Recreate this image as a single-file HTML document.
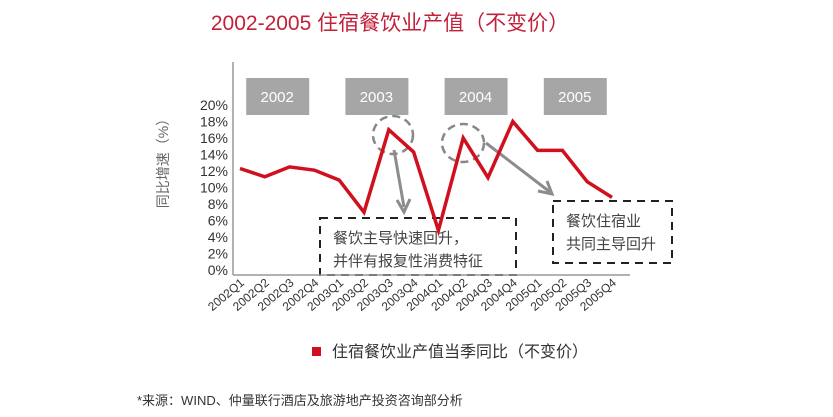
<!DOCTYPE html>
<html><head><meta charset="utf-8"><style>
body{margin:0;background:#fff;width:833px;height:417px;overflow:hidden;font-family:"Liberation Sans","Noto Sans CJK SC",sans-serif;}
svg{display:block}
</style></head><body>
<svg width="833" height="417" xmlns="http://www.w3.org/2000/svg" font-family="Liberation Sans, Noto Sans CJK SC, sans-serif">
<text x="390" y="30" text-anchor="middle" font-size="21" fill="#c3203a">2002-2005 住宿餐饮业产值（不变价）</text>
<g id="yl"></g>
<g id="xl"></g>
<text transform="translate(168,160) rotate(-90)" text-anchor="middle" font-size="14" fill="#666">同比增速（%）</text>
<g id="years"></g>
<ellipse cx="393" cy="135" rx="20" ry="19" fill="none" stroke="#888" stroke-width="2.5" stroke-dasharray="8,5"/>
<ellipse cx="463" cy="143" rx="21" ry="19" fill="none" stroke="#888" stroke-width="2.5" stroke-dasharray="8,5"/>
<g stroke="#8c8c8c" stroke-width="3" fill="none">
<line x1="394" y1="150" x2="404" y2="207"/><polyline points="397,200 404,212 410,199"/>
<line x1="486" y1="143" x2="550" y2="192"/><polyline points="538,191 552,194 547,181"/>
</g>
<rect x="320" y="218" width="196" height="57" fill="none" stroke="#222" stroke-width="2" stroke-dasharray="8,6"/>
<text x="333" y="243" font-size="15" fill="#444">餐饮主导快速回升，</text>
<text x="333" y="266" font-size="15" fill="#444">并伴有报复性消费特征</text>
<rect x="553" y="201" width="119" height="62" fill="none" stroke="#222" stroke-width="2" stroke-dasharray="8,6"/>
<text x="566" y="226" font-size="15" fill="#444">餐饮住宿业</text>
<text x="566" y="249" font-size="15" fill="#444">共同主导回升</text>
<g id="series"></g>
<line x1="233" y1="62" x2="233" y2="275" stroke="#999" stroke-width="1.5"/>
<line x1="233" y1="275" x2="630" y2="275" stroke="#999" stroke-width="1.5"/>
<rect x="312" y="347" width="9" height="9" fill="#d0101e"/>
<text x="332" y="357" font-size="16" fill="#333">住宿餐饮业产值当季同比（不变价）</text>
<text x="137" y="405" font-size="13" fill="#333">*来源：WIND、仲量联行酒店及旅游地产投资咨询部分析</text>
</svg>
<script>
const categories=["2002Q1","2002Q2","2002Q3","2002Q4","2003Q1","2003Q2","2003Q3","2003Q4","2004Q1","2004Q2","2004Q3","2004Q4","2005Q1","2005Q2","2005Q3","2005Q4"];
const values=[12.3,11.3,12.5,12.1,10.9,7.0,17.0,14.3,4.8,16.0,11.2,18.0,14.5,14.5,10.7,8.8];
const yTicks=[0,2,4,6,8,10,12,14,16,18,20];
const yearLabels=["2002","2003","2004","2005"];
const NS="http://www.w3.org/2000/svg";
const x=i=>240+i*24.8;
const y=v=>270-v*8.25;
const yl=document.getElementById('yl');
yTicks.forEach(t=>{const e=document.createElementNS(NS,'text');


e.setAttribute('x',228);e.setAttribute('y',y(t)+5);e.setAttribute('text-anchor','end');e.setAttribute('font-size','14');e.setAttribute('fill','#333');e.textContent=t+'%';yl.appendChild(e);});
const xl=document.getElementById('xl');
categories.forEach((c,i)=>{const e=document.createElementNS(NS,'text');


const px=x(i)+5,py=284;e.setAttribute('transform',`translate(${px},${py}) rotate(-40)`);e.setAttribute('text-anchor','end');e.setAttribute('font-size','12');e.setAttribute('fill','#333');e.textContent=c;xl.appendChild(e);});
const yr=document.getElementById('years');
yearLabels.forEach((l,i)=>{const cx=x(i*4+1.5);const r=document.createElementNS(NS,'rect');


r.setAttribute('x',cx-31);r.setAttribute('y',78);r.setAttribute('width',63);r.setAttribute('height',37);r.setAttribute('fill','#a6a6a6');yr.appendChild(r);
const t=document.createElementNS(NS,'text');


t.setAttribute('x',cx);t.setAttribute('y',102);t.setAttribute('text-anchor','middle');t.setAttribute('font-size','15');t.setAttribute('fill','#fff');t.textContent=l;yr.appendChild(t);});
const p=document.createElementNS(NS,'polyline');


p.setAttribute('points',values.map((v,i)=>x(i)+','+y(v)).join(' '));
p.setAttribute('fill','none');p.setAttribute('stroke','#d0101e');p.setAttribute('stroke-width','3.5');p.setAttribute('stroke-linejoin','miter');
document.getElementById('series').appendChild(p);
</script>
</body></html>
